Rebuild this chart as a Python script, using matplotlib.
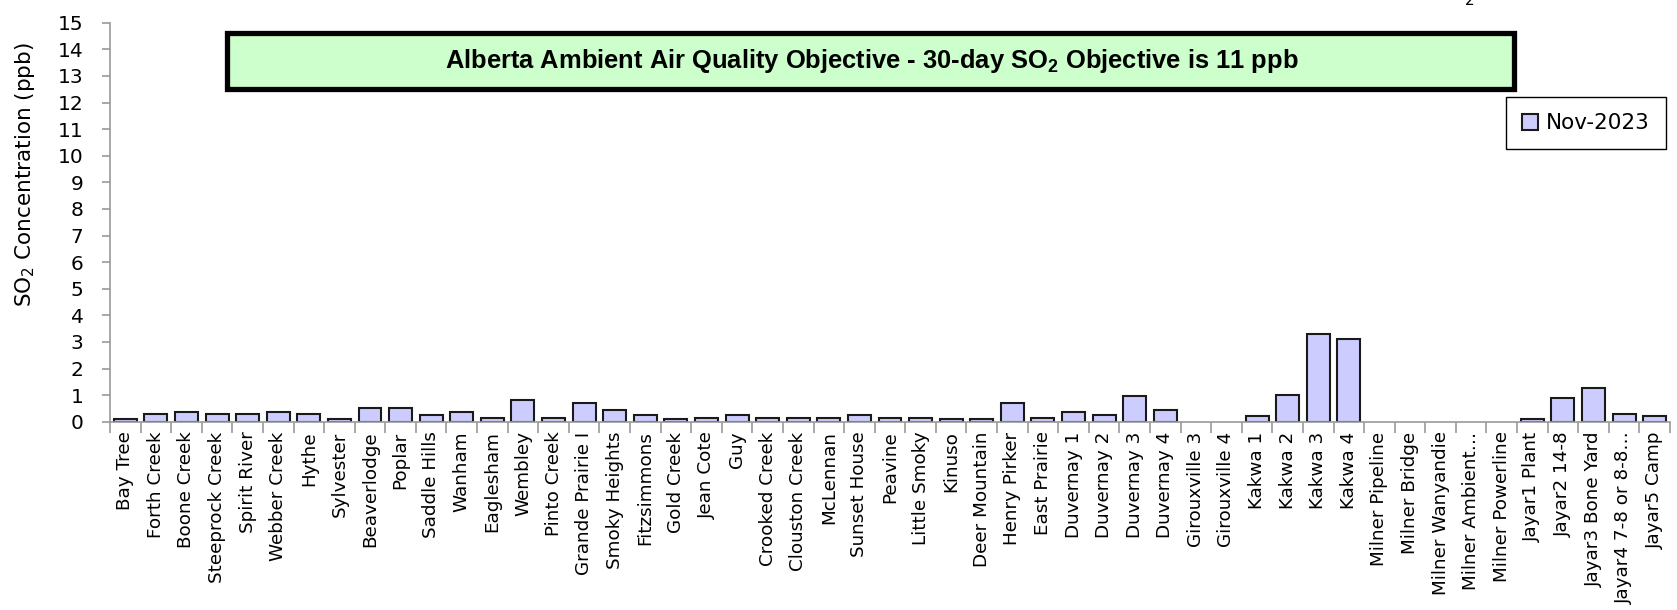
import matplotlib
matplotlib.use("Agg")
import matplotlib.pyplot as plt
from matplotlib.patches import Rectangle
import numpy as np

stations = [
    "Bay Tree", "Forth Creek", "Boone Creek", "Steeprock Creek", "Spirit River",
    "Webber Creek", "Hythe", "Sylvester", "Beaverlodge", "Poplar",
    "Saddle Hills", "Wanham", "Eaglesham", "Wembley", "Pinto Creek",
    "Grande Prairie I", "Smoky Heights", "Fitzsimmons", "Gold Creek", "Jean Cote",
    "Guy", "Crooked Creek", "Clouston Creek", "McLennan", "Sunset House",
    "Peavine", "Little Smoky", "Kinuso", "Deer Mountain", "Henry Pirker",
    "East Prairie", "Duvernay 1", "Duvernay 2", "Duvernay 3", "Duvernay 4",
    "Girouxville 3", "Girouxville 4", "Kakwa 1", "Kakwa 2", "Kakwa 3",
    "Kakwa 4", "Milner Pipeline", "Milner Bridge", "Milner Wanyandie", "Milner Ambient…",
    "Milner Powerline", "Jayar1 Plant", "Jayar2 14-8", "Jayar3 Bone Yard", "Jayar4 7-8 or 8-8…",
    "Jayar5 Camp",
]
nan = np.nan
so2_nov2023 = [
    0.1, 0.3, 0.35, 0.3, 0.3,
    0.35, 0.3, 0.1, 0.5, 0.5,
    0.25, 0.35, 0.15, 0.8, 0.15,
    0.7, 0.45, 0.25, 0.1, 0.15,
    0.25, 0.15, 0.15, 0.15, 0.25,
    0.15, 0.15, 0.1, 0.1, 0.7,
    0.15, 0.35, 0.25, 0.95, 0.45,
    nan, nan, 0.22, 1.0, 3.3,
    3.1, nan, nan, nan, nan,
    nan, 0.1, 0.88, 1.27, 0.3,
    0.22,
]
series_label = "Nov-2023"
objective_text = "Alberta Ambient Air Quality Objective - 30-day SO$_2$ Objective is 11 ppb"
y_ticks = list(range(0, 16))

plt.rcParams.update({"font.family": ["DejaVu Sans"], "mathtext.default": "regular"})

W, H = 1677, 610
fig = plt.figure(figsize=(W / 100, H / 100), dpi=100)
ax = fig.add_axes([110 / W, 1 - 421.7 / H, 1560 / W, 399 / H])

x = np.arange(len(stations))
ax.bar(x, so2_nov2023, width=0.75, color="#CCCCFF", edgecolor="#1a1a1a",
       linewidth=1.5, label=series_label)

ax.set_xlim(-0.5, len(stations) - 0.5)
ax.set_ylim(0, 15)
ax.set_yticks(y_ticks)
ax.tick_params(axis="y", labelsize=14.5, length=6, width=1.2, color="#999999", pad=13)

ax.set_xticks(x, stations, rotation=90)
ax.tick_params(axis="x", which="major", length=0, pad=7, labelsize=13.2)
ax.set_xticks(np.arange(-0.5, len(stations)), minor=True)
ax.tick_params(axis="x", which="minor", length=8, width=1.2, color="#999999")

for s in ("top", "right"):
    ax.spines[s].set_visible(False)
for s in ("left", "bottom"):
    ax.spines[s].set_color("#999999")
    ax.spines[s].set_linewidth(1.2)

fig.text(25 / W, 1 - 175 / H, "SO$_2$ Concentration (ppb)", rotation=90,
         ha="center", va="center", fontsize=15.5)

# objective banner
fig.add_artist(Rectangle((227 / W, 1 - 89 / H), (1514 - 227) / W, 56 / H,
                         transform=fig.transFigure, facecolor="#CCFFCC",
                         edgecolor="black", linewidth=3.8))
fig.text(872 / W, 1 - 61 / H, objective_text, ha="center", va="center",
         fontsize=18.4, fontweight="bold", family="Liberation Sans")

# cut-off subscript from the title above the plot area
fig.text(1470 / W, 1 - 5 / H, "2", ha="center", va="baseline", fontsize=11)

leg = ax.legend(loc="upper left", bbox_to_anchor=(1506 / W, 1 - 97 / H),
                bbox_transform=fig.transFigure, borderaxespad=0, fancybox=False,
                edgecolor="black", framealpha=1, fontsize=15.5, handlelength=0.75,
                handleheight=0.75, handletextpad=0.35, borderpad=0.75)
leg.get_frame().set_linewidth(1.0)

fig.savefig("out.png", dpi=100)
